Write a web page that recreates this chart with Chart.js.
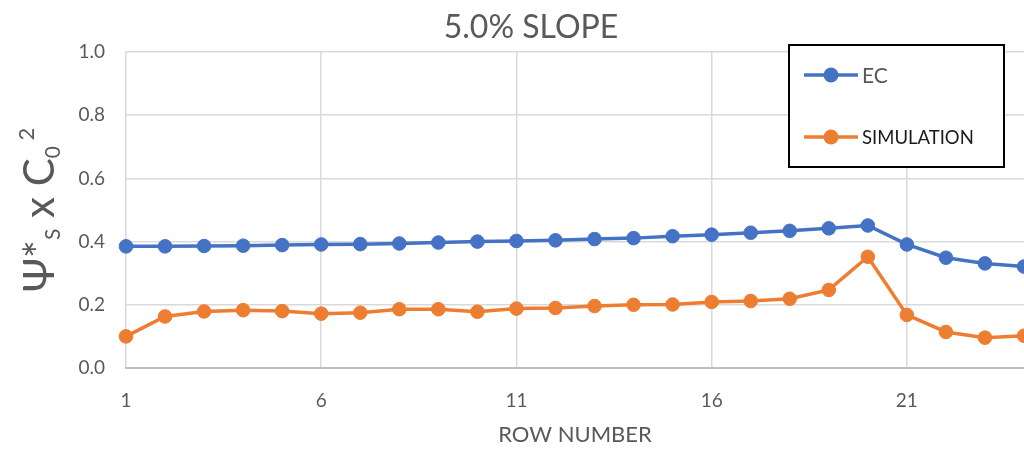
<!DOCTYPE html>
<html>
<head>
<meta charset="utf-8">
<script src="https://cdn.jsdelivr.net/npm/chart.js@4.4.1/dist/chart.umd.min.js"></script>
<style>
  html, body { margin: 0; padding: 0; background: #ffffff; }
  #wrap { width: 1024px; height: 455px; position: relative; }
</style>
</head>
<body>
<div id="wrap"><canvas id="chart"></canvas></div>
<script>
// Row numbers along the x axis
const rows = ['1','2','3','4','5','6','7','8','9','10','11','12','13','14','15','16','17','18','19','20','21','22','23','24'];
// Series values
const ecValues = [0.385, 0.385, 0.386, 0.387, 0.389, 0.391, 0.392, 0.394, 0.397, 0.400, 0.402, 0.404,
                  0.408, 0.411, 0.417, 0.422, 0.428, 0.434, 0.442, 0.451, 0.391, 0.349, 0.331, 0.321];
const simValues = [0.100, 0.163, 0.179, 0.183, 0.180, 0.172, 0.175, 0.186, 0.186, 0.178, 0.188, 0.190,
                   0.196, 0.200, 0.201, 0.209, 0.212, 0.219, 0.247, 0.352, 0.168, 0.114, 0.096, 0.102];
// Labels
const seriesNames = ['EC', 'SIMULATION'];
const chartTitle = '5.0% SLOPE';
const xTitle = 'ROW NUMBER';
const yTickValues = [0, 0.2, 0.4, 0.6, 0.8, 1.0];

const FONT = 'Lato, "Open Sans", sans-serif';
const TEXT = '#595959';
const GRID = '#d9d9d9';

// Shift the title block so its text sits a little right of the canvas centre
const titleShiftPlugin = {
  id: 'titleShift',
  afterLayout(chart) {
    if (chart.titleBlock) { chart.titleBlock.left += 38; }
  }
};

// Rotated y-axis title with subscripts and superscript
const yTitlePlugin = {
  id: 'yTitle',
  afterDraw(chart) {
    const ctx = chart.ctx;
    const parts = [
      { t: 'Ψ*', size: 42, dy: 0 },
      { t: 'S', size: 21, dy: 6 },
      { t: ' x C', size: 42, dy: 0 },
      { t: '0', size: 21, dy: 6 },
      { t: ' ', size: 21, dy: 0 },
      { t: '2', size: 22, dy: -20 }
    ];
    ctx.save();
    let total = 0;
    parts.forEach(p => { ctx.font = p.size + 'px ' + FONT; p.w = ctx.measureText(p.t).width; total += p.w; });
    const cy = (chart.chartArea.top + chart.chartArea.bottom) / 2;
    ctx.translate(54, cy);
    ctx.rotate(-Math.PI / 2);
    ctx.fillStyle = TEXT;
    ctx.textBaseline = 'alphabetic';
    ctx.textAlign = 'left';
    let x = -total / 2;
    parts.forEach(p => {
      ctx.font = p.size + 'px ' + FONT;
      ctx.fillText(p.t, x, p.dy);
      x += p.w;
    });
    ctx.restore();
  }
};

// Boxed legend in the upper right of the plot
const boxLegendPlugin = {
  id: 'boxLegend',
  afterDraw(chart) {
    const ctx = chart.ctx;
    const bx = 789, by = 45, bw = 215, bh = 122;
    ctx.save();
    ctx.fillStyle = '#ffffff';
    ctx.fillRect(bx, by, bw, bh);
    ctx.strokeStyle = '#000000';
    ctx.lineWidth = 2;
    ctx.strokeRect(bx, by, bw, bh);
    const rowsY = [75, 137];
    const textColors = [TEXT, '#1a1a1a'];
    const sizes = ['21px ', '18.5px '];
    chart.data.datasets.forEach((ds, i) => {
      const y = rowsY[i];
      ctx.strokeStyle = ds.borderColor;
      ctx.lineWidth = 3.5;
      ctx.beginPath();
      ctx.moveTo(804, y);
      ctx.lineTo(858, y);
      ctx.stroke();
      ctx.fillStyle = ds.backgroundColor;
      ctx.beginPath();
      ctx.arc(831, y, 7.5, 0, Math.PI * 2);
      ctx.fill();
      ctx.fillStyle = textColors[i];
      ctx.font = sizes[i] + FONT;
      ctx.textBaseline = 'middle';
      ctx.textAlign = 'left';
      ctx.fillText(ds.label, 862, y + 1);
    });
    ctx.restore();
  }
};

new Chart(document.getElementById('chart'), {
  type: 'line',
  data: {
    labels: rows,
    datasets: [
      {
        label: seriesNames[0],
        data: ecValues,
        borderColor: '#4472C4',
        backgroundColor: '#4472C4',
        borderWidth: 3.5,
        pointRadius: 6.8,
        pointBorderWidth: 1,
        pointHoverRadius: 6.8,
        tension: 0,
        clip: false
      },
      {
        label: seriesNames[1],
        data: simValues,
        borderColor: '#ED7D31',
        backgroundColor: '#ED7D31',
        borderWidth: 3.5,
        pointRadius: 6.8,
        pointBorderWidth: 1,
        pointHoverRadius: 6.8,
        tension: 0,
        clip: false
      }
    ]
  },
  options: {
    responsive: true,
    maintainAspectRatio: false,
    animation: false,
    devicePixelRatio: 1,
    layout: { autoPadding: false, padding: { left: 0, right: 0, top: 0, bottom: 0 } },
    plugins: {
      legend: { display: false },
      tooltip: { enabled: false },
      title: {
        display: true,
        text: chartTitle,
        color: TEXT,
        font: { family: FONT, size: 32, weight: 'normal' },
        padding: { top: 8, bottom: 5.6 }
      }
    },
    scales: {
      x: {
        type: 'category',
        offset: false,
        afterFit(scale) { scale.height = 87; scale.paddingRight = 0; },
        grid: {
          drawTicks: false,
          lineWidth: 1.5,
          color: (c) => (c.index % 5 === 0 ? GRID : 'rgba(0,0,0,0)')
        },
        border: { display: true, color: '#bfbfbf', width: 2 },
        ticks: {
          autoSkip: false,
          maxRotation: 0,
          padding: 21,
          color: TEXT,
          font: { family: FONT, size: 19 },
          callback: function (value, index) { return index % 5 === 0 ? this.getLabelForValue(value) : ''; }
        },
        title: {
          display: true,
          text: xTitle,
          color: TEXT,
          font: { family: FONT, size: 22 },
          padding: { top: 0, bottom: 7 }
        }
      },
      y: {
        min: 0,
        max: 1,
        afterFit(scale) { scale.width = 126; },
        afterBuildTicks(scale) { scale.ticks = yTickValues.map(v => ({ value: v })); },
        grid: { drawTicks: false, color: GRID, lineWidth: 1.5 },
        border: { display: false },
        ticks: {
          padding: 21,
          color: TEXT,
          font: { family: FONT, size: 19 },
          callback: (v) => Number(v).toFixed(1)
        }
      }
    }
  },
  plugins: [titleShiftPlugin, yTitlePlugin, boxLegendPlugin]
});
</script>
</body>
</html>
